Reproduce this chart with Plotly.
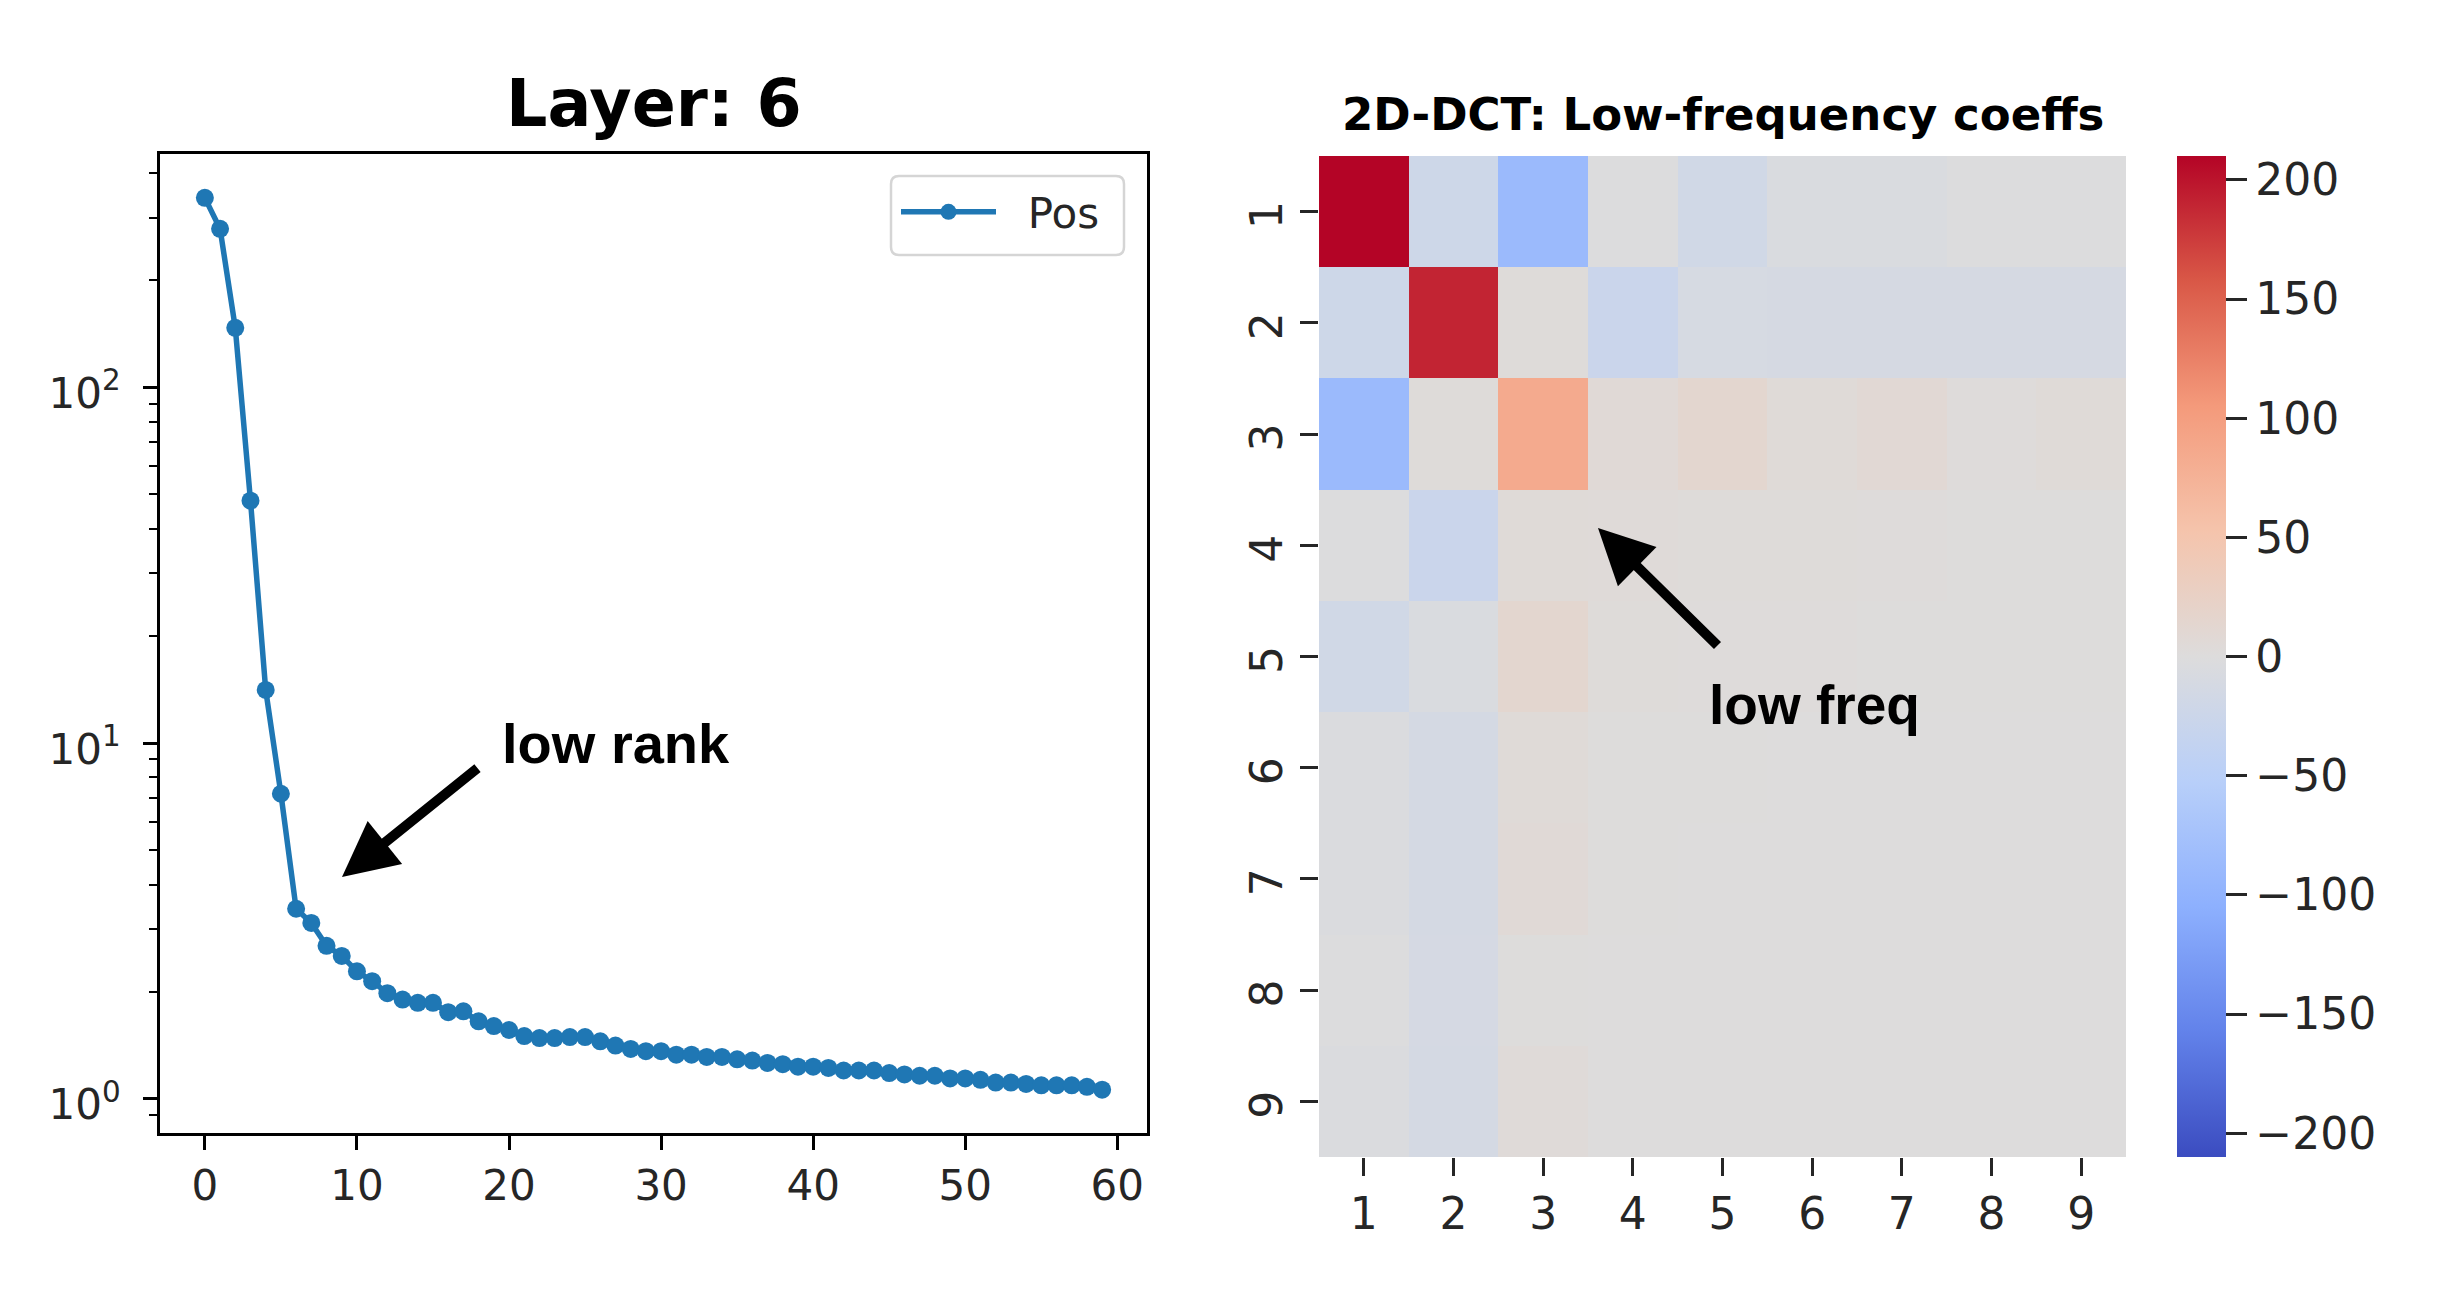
import plotly.graph_objects as go

W = 2456
H = 1300

# singular values
rank = list(range(60))
pos_values = [341, 279, 147, 48, 14.1, 7.2, 3.42, 3.12, 2.69, 2.52,
              2.28, 2.14, 1.98, 1.90, 1.86, 1.86, 1.75, 1.76, 1.65, 1.60,
              1.56, 1.50, 1.48, 1.48, 1.49, 1.49, 1.45, 1.41, 1.38, 1.36,
              1.36, 1.33, 1.33, 1.31, 1.31, 1.29, 1.28, 1.26, 1.25, 1.23,
              1.23, 1.22, 1.20, 1.20, 1.20, 1.18, 1.17, 1.16, 1.16, 1.14,
              1.14, 1.13, 1.11, 1.11, 1.10, 1.09, 1.09, 1.09, 1.08, 1.06]

# DCT coefficients
freq_labels = [1, 2, 3, 4, 5, 6, 7, 8, 9]
dct_row1 = [210, -22, -88, -1, -18, -5, -5, -1, -1]
dct_row2 = [-22, 190, 3, -27, -10, -11, -11, -11, -11]
dct_row3 = [-88, 3, 85, 7, 14, 5, 9, 2, 5]
dct_row4 = [-1, -27, 5, 4, 3, 3, 2, 1, 1]
dct_row5 = [-18, -6, 14, 3, 2, 2, 1, 1, 1]
dct_row6 = [-4, -13, 5, 1, 1, 0, 0, 0, 0]
dct_row7 = [-4, -13, 7, 1, 0, 0, 0, 0, 0]
dct_row8 = [-2, -12, 1, 0, 0, 0, 0, 0, 0]
dct_row9 = [-4, -13, 4, 0, 0, 0, 0, 0, 0]
dct = [dct_row1, dct_row2, dct_row3, dct_row4, dct_row5, dct_row6, dct_row7, dct_row8, dct_row9]

log_ticks = [1, 10, 100]
log_labels = ["10<sup>0</sup>", "10<sup>1</sup>", "10<sup>2</sup>"]
log_minor = [0.9, 2, 3, 4, 5, 6, 7, 8, 9, 20, 30, 40, 50, 60, 70, 80, 90, 200, 300, 400]
cbar_ticks = [-200, -150, -100, -50, 0, 50, 100, 150, 200]

coolwarm = [[0, "#3b4cc0"], [0.125, "#6282ea"], [0.25, "#8db0fe"], [0.375, "#b8cff9"],
            [0.5, "#dddcdc"], [0.625, "#f5c4ac"], [0.75, "#f49a7b"], [0.875, "#d95847"],
            [1, "#b40426"]]

TEXT = "#262626"
FONT = "DejaVu Sans"


def px_x(v):
    return v / W


def px_y(v):
    return 1 - v / H


fig = go.Figure()
fig.add_trace(go.Scatter(x=rank, y=pos_values, mode="lines+markers", name="\u00a0\u00a0Pos",
                         line=dict(color="#1f77b4", width=5.5),
                         marker=dict(color="#1f77b4", size=18),
                         xaxis="x", yaxis="y"))
fig.add_trace(go.Heatmap(z=dct, x=freq_labels, y=freq_labels, colorscale=coolwarm,
                         zmin=-210, zmax=210, xaxis="x2", yaxis="y2", showlegend=False,
                         colorbar=dict(x=px_x(2177), xanchor="left", xpad=0, ypad=0,
                                       y=px_y(156), yanchor="top", len=1001 / H, lenmode="fraction",
                                       thickness=49, outlinewidth=0,
                                       tickmode="array", tickvals=cbar_ticks,
                                       ticks="outside", ticklen=21, tickwidth=3, tickcolor=TEXT,
                                       tickfont=dict(family=FONT, size=44, color=TEXT))))

fig.update_layout(
    width=W, height=H, margin=dict(l=0, r=0, t=0, b=0),
    showlegend=True,
    paper_bgcolor="white", plot_bgcolor="white",
    font=dict(family=FONT, color=TEXT),
    xaxis=dict(domain=[px_x(160), px_x(1147)], range=[-2.95, 61.95], anchor="y",
               tickmode="array", tickvals=[0, 10, 20, 30, 40, 50, 60],
               ticks="outside", ticklen=14, tickwidth=3, tickcolor="black",
               showgrid=False, zeroline=False, showline=True, linewidth=3, linecolor="black", mirror=True,
               tickfont=dict(size=42, color=TEXT)),
    yaxis=dict(type="log", domain=[px_y(1133), px_y(154)], range=[-0.0965, 2.656], anchor="x",
               tickmode="array", tickvals=log_ticks, ticktext=log_labels,
               ticks="outside", ticklen=14, tickwidth=3, tickcolor="black",
               ticklabelstandoff=14, ticklabelshift=6,
               minor=dict(ticks="outside", ticklen=8, tickwidth=2, tickcolor="black",
                          tickmode="array", tickvals=log_minor, showgrid=False),
               showgrid=False, zeroline=False, showline=True, linewidth=3, linecolor="black", mirror=True,
               tickfont=dict(size=42, color=TEXT)),
    xaxis2=dict(domain=[px_x(1319), px_x(2126)], range=[0.5, 9.5], anchor="y2",
                tickmode="array", tickvals=freq_labels,
                ticks="outside", ticklen=18, tickwidth=3, tickcolor=TEXT,
                showgrid=False, zeroline=False, showline=False,
                tickfont=dict(size=44, color=TEXT)),
    yaxis2=dict(domain=[px_y(1157), px_y(156)], range=[9.5, 0.5], anchor="x2",
                tickmode="array", tickvals=freq_labels, tickangle=-90, ticklabelshift=-10,
                ticks="outside", ticklen=18, tickwidth=3, tickcolor=TEXT,
                showgrid=False, zeroline=False, showline=False,
                tickfont=dict(size=44, color=TEXT)),
    legend=dict(x=px_x(896), xanchor="left", y=px_y(212), yanchor="middle",
                bgcolor="rgba(0,0,0,0)", borderwidth=0,
                font=dict(size=42, color=TEXT), itemwidth=95),
)

# rounded legend frame, plotly's own legend box has square corners
x0, x1 = px_x(891), px_x(1124)
y0, y1 = px_y(255), px_y(176)
rx, ry = 8 / W, 8 / H
frame = (f"M {x0 + rx} {y1} L {x1 - rx} {y1} Q {x1} {y1} {x1} {y1 - ry} L {x1} {y0 + ry} "
         f"Q {x1} {y0} {x1 - rx} {y0} L {x0 + rx} {y0} Q {x0} {y0} {x0} {y0 + ry} "
         f"L {x0} {y1 - ry} Q {x0} {y1} {x0 + rx} {y1} Z")
fig.add_shape(type="path", path=frame, xref="paper", yref="paper",
              line=dict(color="#d5d5d5", width=2.5), fillcolor="white")

fig.add_annotation(text="<b>Layer: 6</b>", xref="paper", yref="paper", x=px_x(654), y=px_y(104),
                   xanchor="center", yanchor="middle", showarrow=False,
                   font=dict(family=FONT, size=65, color="black"))
fig.add_annotation(text="<b>2D-DCT: Low-frequency coeffs</b>", xref="paper", yref="paper",
                   x=px_x(1723), y=px_y(114), xanchor="center", yanchor="middle", showarrow=False,
                   font=dict(family=FONT, size=45, color="black"))
fig.add_annotation(text="<b>low rank</b>", xref="paper", yref="paper", x=px_x(500), y=px_y(743),
                   xanchor="left", yanchor="middle", showarrow=False,
                   font=dict(family="Liberation Sans", size=56, color="black"))
fig.add_annotation(text="<b>low freq</b>", xref="paper", yref="paper", x=px_x(1707), y=px_y(705),
                   xanchor="left", yanchor="middle", showarrow=False,
                   font=dict(family="Liberation Sans", size=55, color="black"))
# arrows, tail given in pixels from the tip
fig.add_annotation(text="", xref="paper", yref="paper", x=px_x(342), y=px_y(877),
                   ax=137, ay=-110, showarrow=True, arrowhead=2, arrowsize=1.1, arrowwidth=10,
                   arrowcolor="black")
fig.add_annotation(text="", xref="paper", yref="paper", x=px_x(1598), y=px_y(528),
                   ax=121, ay=119, showarrow=True, arrowhead=2, arrowsize=1.1, arrowwidth=10,
                   arrowcolor="black")

fig.write_html("out.html", post_script="document.body.style.margin='0';",
               config={"displayModeBar": False})
